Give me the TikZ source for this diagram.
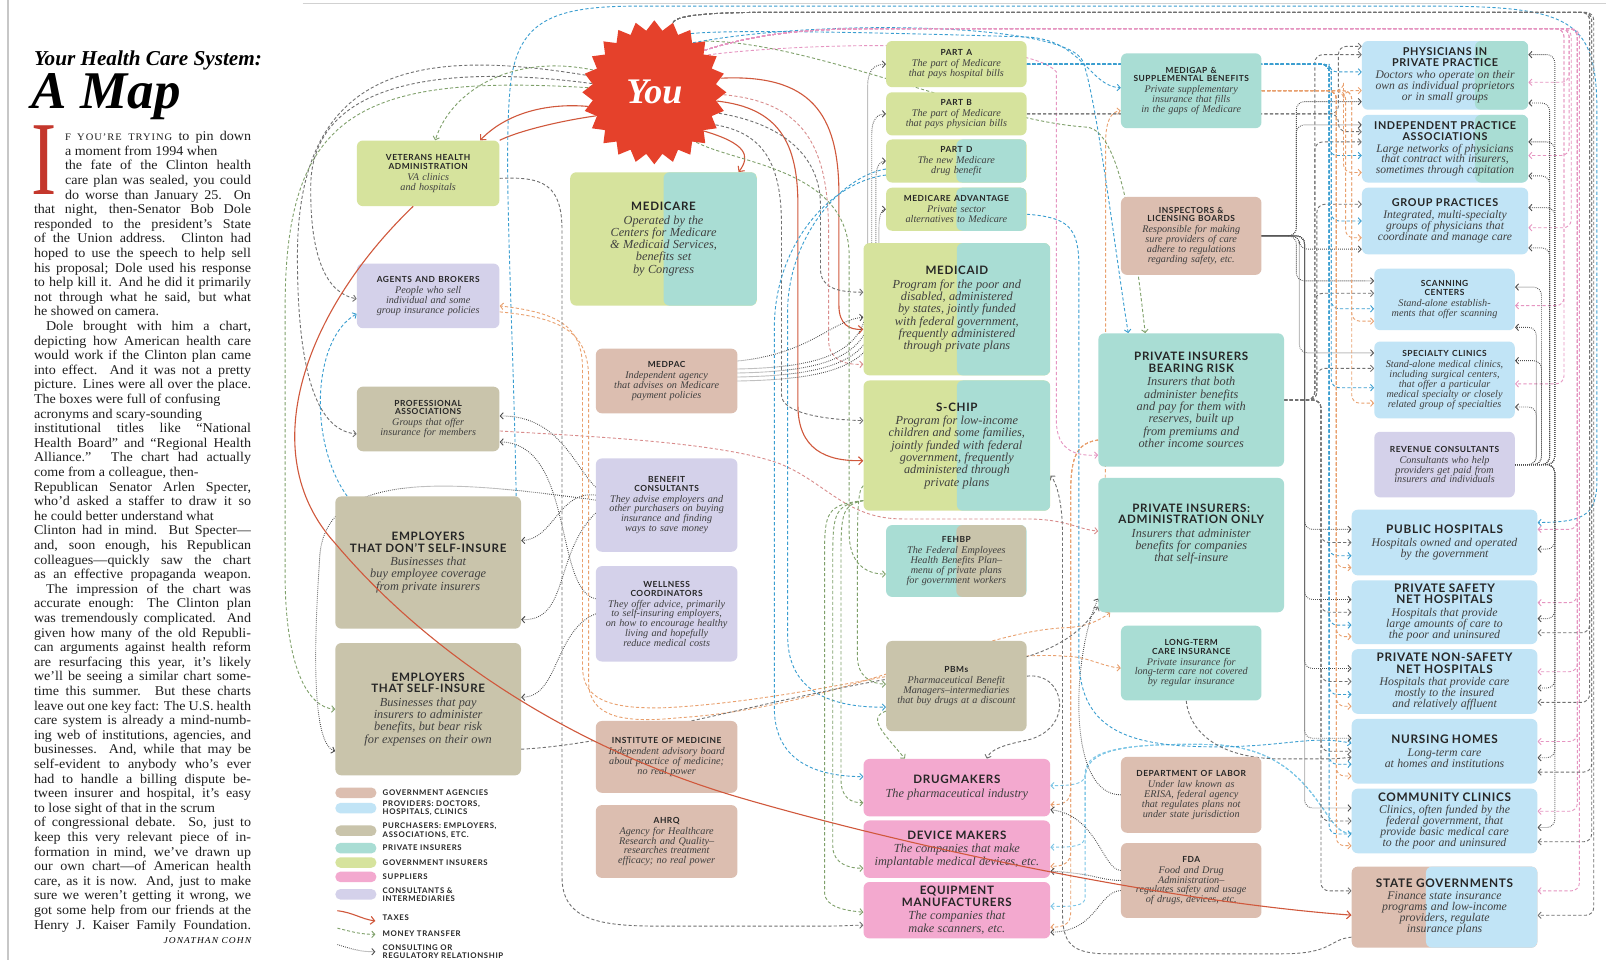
\documentclass[tikz,border=0pt]{standalone}
\usepackage{fontspec}
\usepackage{graphicx}
\setmainfont{Liberation Serif}
\newfontfamily\bodyfont{Liberation Serif}[FakeStretch=1.05]
\newfontfamily\titlefont{Lato}[LetterSpace=6]
\newfontfamily\legfont{Lato}[LetterSpace=8]
\newfontfamily\descfont{Liberation Serif}
\usetikzlibrary{shapes.geometric,arrows.meta,calc}
\pgfdeclarelayer{back}\pgfdeclarelayer{bg}\pgfdeclarelayer{fore}
\pgfsetlayers{back,bg,main,fore}
\definecolor{cGovIns}{HTML}{D6E39D}
\definecolor{cPrivIns}{HTML}{A9DDD4}
\definecolor{cAgency}{HTML}{DCBEB0}
\definecolor{cProv}{HTML}{C1E4F6}
\definecolor{cPurch}{HTML}{C9C4AB}
\definecolor{cSupp}{HTML}{F3A9CF}
\definecolor{cCons}{HTML}{D4D1EA}
\definecolor{youc}{HTML}{E5412B}
\definecolor{taxc}{HTML}{D0583C}
\definecolor{cgray}{HTML}{707070}
\definecolor{cblue}{HTML}{3A9ED0}
\definecolor{clblue}{HTML}{7CC6E6}
\definecolor{corange}{HTML}{E9A06E}
\definecolor{cpink}{HTML}{E695C1}
\definecolor{crose}{HTML}{D98C8C}
\definecolor{cgreen}{HTML}{7FA06A}
\definecolor{dotc}{HTML}{4D4D4D}
\definecolor{ttc}{HTML}{262626}
\definecolor{ddc}{HTML}{404040}
\definecolor{capred}{HTML}{C4372C}
\newcommand\ttS{\titlefont\bfseries\fontsize{8.4}{8.6}\selectfont\color{ttc}}
\newcommand\ddS{\descfont\itshape\fontsize{10.2}{9.8}\selectfont\color{ddc}}
\newcommand\ttM{\titlefont\bfseries\fontsize{10.8}{10.8}\selectfont\color{ttc}}
\newcommand\ddM{\descfont\itshape\fontsize{11.6}{10.8}\selectfont\color{ddc}}
\newcommand\ttH{\titlefont\bfseries\fontsize{11.8}{11.5}\selectfont\color{ttc}}
\newcommand\ddH{\descfont\itshape\fontsize{11.8}{11}\selectfont\color{ddc}}
\newcommand\ttL{\titlefont\bfseries\fontsize{11.6}{11.4}\selectfont\color{ttc}}
\newcommand\ddL{\descfont\itshape\fontsize{12.3}{12.3}\selectfont\color{ddc}}
\newcommand\Lj[1]{\hbox to 217pt{#1}}
\newcommand\Li[1]{\hbox to 217pt{\kern31pt #1}}
\newcommand\Lp[1]{\hbox to 217pt{\kern12pt #1}}
\newcommand\Ln[1]{\hbox{#1}}
\tikzset{
 bxs/.style={rounded corners=6pt, inner sep=0pt, align=center, draw=none},
 split/.style n args={3}{fill=#1, path picture={\fill[#2] ($(path picture bounding box.south west)!#3!(path picture bounding box.south east)$) rectangle (path picture bounding box.north east);}},
 tax/.style={draw=taxc, line width=1.1pt, -{Straight Barb[length=4pt,width=8pt]}},
 taxline/.style={draw=taxc, line width=1.1pt},
 mon/.style={draw=#1, line width=0.9pt, dash pattern=on 3.2pt off 2.2pt, ->},
 con/.style={draw=dotc, line width=0.9pt, dash pattern=on 0.8pt off 1.2pt, ->},
 swatch/.style={fill=#1, rounded corners=5pt, minimum width=41pt, minimum height=10.5pt, inner sep=0pt},
 leg/.style={anchor=west, inner sep=0pt, align=left, font=\legfont\bfseries\fontsize{7.8}{8.2}\selectfont, text=ttc}
}
\newcommand\hbx[9]{%
 \pgfmathsetmacro\bxw{(#4-#2)*1.0256}\pgfmathsetmacro\bxh{(#5-#3)*1.0256}\pgfmathsetmacro\bxt{(#4-#2)*1.0256-6}%
 \node[bxs,#6,minimum width=\bxw pt,minimum height=\bxh pt,text width=\bxt pt] (#1) at ({(#2+#4)/2},{(#3+#5)/2}) {{\csname tt#7\endcsname #8\par}\vspace{1.2pt}{\csname dd#7\endcsname #9\par}};}
\newcommand\busW[5]{\coordinate (tt) at ($(#4.north west)!#5!(#4.south west)$);\coordinate (bb) at (#3,0);\draw[#1,rounded corners=8pt] #2 -| (bb |- tt) -- (tt);}
\newcommand\busE[5]{\coordinate (tt) at ($(#4.north east)!#5!(#4.south east)$);\coordinate (bb) at (#3,0);\draw[#1,rounded corners=8pt] #2 -| (bb |- tt) -- (tt);}
\begin{document}
\begin{tikzpicture}[x=1.0256pt,y=-1.0256pt,>={Straight Barb[length=3pt,width=6.5pt]}]
\begin{pgfonlayer}{back}\fill[white] (0,0) rectangle (1566.91,936.04);\end{pgfonlayer}
\useasboundingbox (0,0) rectangle (1566.91,936.04);
\draw[black!22, line width=2pt] (8,0) -- (8,936);
\draw[black!18, line width=1pt] (295,3) -- (1566,3);

% ---------- text column ----------
\node[anchor=base west, inner sep=0pt] (title1) at (33,64) {\fontsize{21.2}{21.2}\selectfont\bfseries\itshape Your Health Care System:};
\node[anchor=base west, inner sep=0pt] (title2) at (31,106) {\fontsize{53}{53}\selectfont\bfseries\itshape A Map};
\node[anchor=base west, inner sep=0pt, text=capred] (dropcap) at (31,190) {\scalebox{0.72}[1]{\fontsize{105}{105}\selectfont I}};
\node[anchor=north west, inner sep=0pt, text=black!88] (body) at (33,128) {\bodyfont\fontsize{13.4}{14.6}\selectfont\vbox{\baselineskip=14.6pt\lineskiplimit=-20pt\lineskip=0pt
\Li{{\fontsize{10}{9}\selectfont\addfontfeature{LetterSpace=10}F YOU’RE TRYING} to pin down}
\Li{a moment from 1994 when\hfil}
\Li{the fate of the Clinton health}
\Li{care plan was sealed, you could}
\Li{do worse than January 25. On}
\Lj{that night, then-Senator Bob Dole}
\Lj{responded to the president’s State}
\Lj{of the Union address. Clinton had}
\Lj{hoped to use the speech to help sell}
\Lj{his proposal; Dole used his response}
\Lj{to help kill it. And he did it primarily}
\Lj{not through what he said, but what}
\Ln{he showed on camera.}
\Lp{Dole brought with him a chart,}
\Lj{depicting how American health care}
\Lj{would work if the Clinton plan came}
\Lj{into effect. And it was not a pretty}
\Lj{picture. Lines were all over the place.}
\Lj{The boxes were full of confusing\hfil}
\Lj{acronyms and scary-sounding\hfil}
\Lj{institutional titles like “National}
\Lj{Health Board” and “Regional Health}
\Lj{Alliance.” The chart had actually}
\Lj{come from a colleague, then-\hfil}
\Lj{Republican Senator Arlen Specter,}
\Lj{who’d asked a staffer to draw it so}
\Lj{he could better understand what\hfil}
\Lj{Clinton had in mind. But Specter—}
\Lj{and, soon enough, his Republican}
\Lj{colleagues—quickly saw the chart}
\Lj{as an effective propaganda weapon.}
\Lp{The impression of the chart was}
\Lj{accurate enough: The Clinton plan}
\Lj{was tremendously complicated. And}
\Lj{given how many of the old Republi-}
\Lj{can arguments against health reform}
\Lj{are resurfacing this year, it’s likely}
\Lj{we’ll be seeing a similar chart some-}
\Lj{time this summer. But these charts}
\Lj{leave out one key fact: The U.S. health}
\Lj{care system is already a mind-numb-}
\Lj{ing web of institutions, agencies, and}
\Lj{businesses. And, while that may be}
\Lj{self-evident to anybody who’s ever}
\Lj{had to handle a billing dispute be-}
\Lj{tween insurer and hospital, it’s easy}
\Lj{to lose sight of that in the scrum\hfil}
\Lj{of congressional debate. So, just to}
\Lj{keep this very relevant piece of in-}
\Lj{formation in mind, we’ve drawn up}
\Lj{our own chart—of American health}
\Lj{care, as it is now. And, just to make}
\Lj{sure we weren’t getting it wrong, we}
\Lj{got some help from our friends at the}
\Lj{Henry J. Kaiser Family Foundation.}}};
\node[anchor=base east, inner sep=0pt] (author) at (245,920) {\bodyfont\fontsize{9}{9}\selectfont\itshape\addfontfeature{LetterSpace=12}JONATHAN COHN};

% ---------- boxes ----------
\hbx{vha}{348}{137}{487}{201}{fill=cGovIns}{S}{VETERANS HEALTH\\ADMINISTRATION}{VA clinics\\and hospitals}
\hbx{agents}{348}{257}{487}{320}{fill=cCons}{S}{AGENTS AND BROKERS}{People who sell\\individual and some\\group insurance policies}
\hbx{prof}{348}{377}{487}{440}{fill=cPurch}{S}{PROFESSIONAL\\ASSOCIATIONS}{Groups that offer\\insurance for members}
\hbx{empno}{327}{484}{508}{613}{fill=cPurch}{L}{EMPLOYERS\\THAT DON’T SELF-INSURE}{Businesses that\\buy employee coverage\\from private insurers}
\hbx{empself}{327}{627}{508}{756}{fill=cPurch}{L}{EMPLOYERS\\THAT SELF-INSURE}{Businesses that pay\\insurers to administer\\benefits, but bear risk\\for expenses on their own}
\hbx{medicare}{556}{168}{738}{298}{split={cGovIns}{cPrivIns}{0.5}}{L}{MEDICARE}{Operated by the\\Centers for Medicare\\\& Medicaid Services,\\benefits set\\by Congress}
\hbx{medpac}{581}{340}{719}{403}{fill=cAgency}{S}{MEDPAC}{Independent agency\\that advises on Medicare\\payment policies}
\hbx{benefit}{581}{447}{719}{538}{fill=cCons}{S}{BENEFIT\\CONSULTANTS}{They advise employers and\\other purchasers on buying\\insurance and finding\\ways to save money}
\hbx{wellness}{581}{552}{719}{645}{fill=cCons}{S}{WELLNESS\\COORDINATORS}{They offer advice, primarily\\to self-insuring employers,\\on how to encourage healthy\\living and hopefully\\reduce medical costs}
\hbx{iom}{581}{703}{719}{773}{fill=cAgency}{S}{INSTITUTE OF MEDICINE}{Independent advisory board\\about practice of medicine;\\no real power}
\hbx{ahrq}{581}{785}{719}{856}{fill=cAgency}{S}{AHRQ}{Agency for Healthcare\\Research and Quality–\\researches treatment\\efficacy; no real power}
\hbx{parta}{864}{40}{1001}{85}{fill=cGovIns}{S}{PART A}{The part of Medicare\\that pays hospital bills}
\hbx{partb}{864}{90}{1001}{132}{fill=cGovIns}{S}{PART B}{The part of Medicare\\that pays physician bills}
\hbx{partd}{864}{136}{1001}{178}{split={cGovIns}{cPrivIns}{0.5}}{S}{PART D}{The new Medicare\\drug benefit}
\hbx{adv}{864}{183}{1001}{225}{split={cGovIns}{cPrivIns}{0.5}}{S}{MEDICARE ADVANTAGE}{Private sector\\alternatives to Medicare}
\hbx{medicaid}{842}{237}{1024}{366}{split={cGovIns}{cPrivIns}{0.5}}{L}{MEDICAID}{Program for the poor and\\disabled, administered\\by states, jointly funded\\with federal government,\\frequently administered\\through private plans}
\hbx{schip}{842}{371}{1024}{498}{split={cGovIns}{cPrivIns}{0.5}}{L}{S-CHIP}{Program for low-income\\children and some families,\\jointly funded with federal\\government, frequently\\administered through\\private plans}
\hbx{fehbp}{864}{512}{1001}{582}{split={cPrivIns}{cPurch}{0.5}}{S}{FEHBP}{The Federal Employees\\Health Benefits Plan–\\menu of private plans\\for government workers}
\hbx{pbm}{864}{625}{1001}{713}{fill=cPurch}{S}{PBMs}{Pharmaceutical Benefit\\Managers–intermediaries\\that buy drugs at a discount}
\hbx{drug}{842}{740}{1024}{796}{fill=cSupp}{L}{DRUGMAKERS}{The pharmaceutical industry}
\hbx{device}{842}{800}{1024}{856}{fill=cSupp}{L}{DEVICE MAKERS}{The companies that make\\implantable medical devices, etc.}
\hbx{equip}{842}{860}{1024}{915}{fill=cSupp}{L}{EQUIPMENT\\MANUFACTURERS}{The companies that\\make scanners, etc.}
\hbx{medigap}{1093}{52}{1230}{125}{fill=cPrivIns}{S}{MEDIGAP \&\\SUPPLEMENTAL BENEFITS}{Private supplementary\\insurance that fills\\in the gaps of Medicare}
\hbx{inspect}{1093}{192}{1230}{268}{fill=cAgency}{S}{INSPECTORS \&\\LICENSING BOARDS}{Responsible for making\\sure providers of care\\adhere to regulations\\regarding safety, etc.}
\hbx{pibr}{1071}{325}{1252}{455}{fill=cPrivIns}{L}{PRIVATE INSURERS\\BEARING RISK}{Insurers that both\\administer benefits\\and pay for them with\\reserves, built up\\from premiums and\\other income sources}
\hbx{admin}{1071}{466}{1252}{597}{fill=cPrivIns}{L}{PRIVATE INSURERS:\\ADMINISTRATION ONLY}{Insurers that administer\\benefits for companies\\that self-insure\\[22pt]}
\hbx{ltc}{1093}{610}{1230}{683}{fill=cPrivIns}{S}{LONG-TERM\\CARE INSURANCE}{Private insurance for\\long-term care not covered\\by regular insurance}
\hbx{dol}{1093}{738}{1230}{812}{fill=cAgency}{S}{DEPARTMENT OF LABOR}{Under law known as\\ERISA, federal agency\\that regulates plans not\\under state jurisdiction}
\hbx{fda}{1093}{822}{1230}{895}{fill=cAgency}{S}{FDA}{Food and Drug\\Administration–\\regulates safety and usage\\of drugs, devices, etc.}
\hbx{phys}{1328}{40}{1490}{107}{split={cProv}{cPrivIns}{0.68}}{M}{PHYSICIANS IN\\PRIVATE PRACTICE}{Doctors who operate on their\\own as individual proprietors\\or in small groups}
\hbx{ipa}{1328}{112}{1490}{178}{split={cProv}{cPrivIns}{0.68}}{M}{INDEPENDENT PRACTICE\\ASSOCIATIONS}{Large networks of physicians\\that contract with insurers,\\sometimes through capitation}
\hbx{group}{1328}{183}{1490}{248}{fill=cProv}{M}{GROUP PRACTICES}{Integrated, multi-specialty\\groups of physicians that\\coordinate and manage care}
\hbx{scan}{1340}{262}{1477}{322}{fill=cProv}{S}{SCANNING\\CENTERS}{Stand-alone establish-\\ments that offer scanning}
\hbx{spec}{1340}{333}{1477}{408}{fill=cProv}{S}{SPECIALTY CLINICS}{Stand-alone medical clinics,\\including surgical centers,\\that offer a particular\\medical specialty or closely\\related group of specialties}
\hbx{revenue}{1340}{421}{1477}{485}{fill=cCons}{S}{REVENUE CONSULTANTS}{Consultants who help\\providers get paid from\\insurers and individuals}
\hbx{pubhosp}{1318}{497}{1499}{561}{fill=cProv}{H}{PUBLIC HOSPITALS}{Hospitals owned and operated\\by the government}
\hbx{safety}{1318}{566}{1499}{628}{fill=cProv}{H}{PRIVATE SAFETY\\NET HOSPITALS}{Hospitals that provide\\large amounts of care to\\the poor and uninsured}
\hbx{nonsafety}{1318}{633}{1499}{696}{fill=cProv}{H}{PRIVATE NON-SAFETY\\NET HOSPITALS}{Hospitals that provide care\\mostly to the insured\\and relatively affluent}
\hbx{nursing}{1318}{701}{1499}{764}{fill=cProv}{H}{NURSING HOMES}{Long-term care\\at homes and institutions}
\hbx{community}{1318}{769}{1499}{832}{fill=cProv}{H}{COMMUNITY CLINICS}{Clinics, often funded by the\\federal government, that\\provide basic medical care\\to the poor and uninsured}
\hbx{state}{1318}{845}{1499}{924}{split={cAgency}{cProv}{0.4}}{H}{STATE GOVERNMENTS}{Finance state insurance\\programs and low-income\\providers, regulate\\insurance plans}

\node[star, star points=24, star point ratio=1.16, fill=youc, minimum size=144pt, inner sep=0pt] (you) at (638,90) {\fontsize{36}{36}\selectfont\bfseries\itshape\color{white}You};

% ---------- legend ----------
\node[swatch=cAgency] (lg1) at (347,773) {};
\node[swatch=cProv] (lg2) at (347,788) {};
\node[swatch=cPurch] (lg3) at (347,810) {};
\node[swatch=cPrivIns] (lg4) at (347,827) {};
\node[swatch=cGovIns] (lg5) at (347,841) {};
\node[swatch=cSupp] (lg6) at (347,855) {};
\node[swatch=cCons] (lg7) at (347,872) {};
\node[leg] (lt1) at (373,773) {GOVERNMENT AGENCIES};
\node[leg] (lt2) at (373,788) {PROVIDERS: DOCTORS,\\HOSPITALS, CLINICS};
\node[leg] (lt3) at (373,810) {PURCHASERS: EMPLOYERS,\\ASSOCIATIONS, ETC.};
\node[leg] (lt4) at (373,827) {PRIVATE INSURERS};
\node[leg] (lt5) at (373,841) {GOVERNMENT INSURERS};
\node[leg] (lt6) at (373,855) {SUPPLIERS};
\node[leg] (lt7) at (373,872) {CONSULTANTS \&\\INTERMEDIARIES};
\node[leg] (lt8) at (373,895) {TAXES};
\node[leg] (lt9) at (373,910) {MONEY TRANSFER};
\node[leg] (lt10) at (373,928) {CONSULTING OR\\REGULATORY RELATIONSHIP};
\draw[taxc, line width=1.1pt, -{Straight Barb[length=4pt,width=8pt]}] (329,888) .. controls (345,890) and (352,896) .. (366,898);
\draw[cgreen, line width=0.9pt, dash pattern=on 3pt off 2pt, ->] (329,905) .. controls (345,909) and (352,911) .. (366,911);
\draw[dotc, line width=0.9pt, dash pattern=on 0.8pt off 1.2pt, ->] (329,921) .. controls (345,926) and (352,928) .. (366,928);

% ---------- connectors ----------
\begin{pgfonlayer}{bg}
% taxes
\draw[tax] (you.192) .. controls (530,100) and (492,112) .. ([xshift=52pt]vha.north);
\draw[tax] (you.-38) .. controls (728,140) and (732,152) .. ([xshift=75pt]medicare.north);
\draw[tax] (you.12) .. controls (790,72) and (818,110) .. (818,190) -- (818,298) .. controls (818,316) and (828,322) .. ([yshift=-20pt]medicaid.west);
\draw[tax] (you.-8) .. controls (760,105) and (778,140) .. (778,200) -- (778,395) .. controls (778,438) and (805,450) .. ([yshift=-15pt]schip.west);
\draw[taxline] (you.202) .. controls (545,118) and (505,128) .. (vha.north east);
% left side
\draw[mon=cgray] (you.172) .. controls (430,62) and (305,80) .. (303,180) .. controls (302,250) and (318,286) .. ([yshift=-3pt]agents.west);
\draw[mon=cgray] (you.166) .. controls (400,45) and (290,70) .. (290,250) .. controls (290,380) and (315,420) .. ([yshift=-15pt]prof.west);
\draw[mon=cgreen] (you.160) .. controls (500,52) and (440,88) .. ([xshift=7pt]vha.north);
\draw[mon=cblue] ([xshift=12pt]empno.north west) .. controls (300,430) and (305,330) .. ([yshift=-18pt]agents.west);
\draw[mon=cgreen] (you.176) .. controls (350,72) and (278,110) .. (278,300) -- (278,560) .. controls (278,650) and (300,690) .. (empself.west);
\draw[con] ([yshift=5pt]benefit.west) .. controls (450,470) and (320,455) .. (312,540) .. controls (305,640) and (305,725) .. ([yshift=-42pt]empself.west);
\draw[con] ([yshift=10pt]benefit.west) .. controls (545,478) and (540,526) .. ([yshift=22pt]empno.east);
\draw[con] ([yshift=-8pt]benefit.west) .. controls (540,540) and (555,606) .. ([yshift=-57pt]empno.east);
\draw[con] (wellness.west) .. controls (540,615) and (545,680) .. ([yshift=12pt]empself.east);
\draw[con] ([yshift=18pt]benefit.west) .. controls (560,455) and (545,405) .. ([yshift=3pt]prof.east);
\draw[con] ([yshift=15pt]wellness.west) .. controls (540,575) and (560,432) .. ([yshift=-23pt]prof.east);
\draw[mon=crose] ([yshift=-12pt]prof.east) .. controls (560,425) and (700,430) .. (760,452) .. controls (805,470) and (825,506) .. (880,506) -- (1000,506) .. controls (1040,506) and (1050,516) .. ([yshift=14pt]admin.west);
\draw[mon=corange,<->] ([yshift=-5pt]ltc.west) .. controls (1075,650) and (1060,640) .. (1040,640) .. controls (950,632) and (800,682) .. (650,690) .. controls (590,692) and (568,680) .. (568,650) -- (568,360) .. controls (568,318) and (545,305) .. ([yshift=-10pt]agents.east);
\draw[mon=corange] ([yshift=-16pt]agents.east) .. controls (550,310) and (574,325) .. (574,370) -- (574,665) .. controls (574,700) and (610,705) .. (660,700) .. controls (820,690) and (950,615) .. (1040,612) .. controls (1060,611) and (1072,605) .. ([xshift=12pt]admin.south west);
\draw[mon=cgray] ([yshift=-40pt]empself.east) .. controls (620,725) and (800,665) .. (950,650) .. controls (1030,642) and (1058,612) .. ([yshift=6pt]admin.south west);
\draw[mon=cgray] ([yshift=-5pt]vha.east) .. controls (530,172) and (548,180) .. (548,225) -- (548,855) .. controls (548,895) and (580,903) .. (640,903) -- (800,903) .. controls (826,903) and (832,902) .. ([yshift=-15pt]equip.west);
\draw[mon=cblue] ([xshift=-5pt]empno.north east) .. controls (500,300) and (490,150) .. (498,80) .. controls (506,20) and (540,6) .. (620,6) -- (1400,6) .. controls (1530,6) and (1555,20) .. (1557,100) -- (1557,470) .. controls (1557,505) and (1540,509) .. ([yshift=20pt]pubhosp.east);
% centre
\draw[mon=cgray] (you.-18) .. controls (760,120) and (800,150) .. (800,200) -- (800,262) .. controls (800,280) and (815,285) .. ([yshift=17pt]medicaid.west);
\draw[mon=cgray] (you.-28) .. controls (745,130) and (762,160) .. (762,220) -- (762,385) .. controls (762,402) and (800,409) .. ([yshift=25pt]schip.west);
\draw[mon=crose] (you.-2) .. controls (790,100) and (808,150) .. (808,230) -- (808,332) .. controls (808,350) and (822,356) .. ([yshift=-55pt]medicaid.west);
\draw[mon=cblue] ([yshift=-8pt]partd.west) .. controls (820,172) and (770,230) .. (768,300) -- (768,620) .. controls (768,680) and (820,690) .. ([yshift=-21pt]pbm.west);
\draw[mon=cblue] ([yshift=-14pt]partd.west) .. controls (808,178) and (755,240) .. (755,320) -- (755,690) .. controls (755,745) and (800,757) .. ([yshift=11pt]drug.west);
\draw[mon=cgreen] (you.-50) .. controls (720,160) and (828,165) .. (828,250) -- (828,520) .. controls (828,550) and (845,560) .. ([yshift=-13pt]fehbp.west);
\draw[mon=cgreen] ([yshift=-40pt]schip.west) .. controls (836,478) and (836,500) .. (836,560) -- (836,640) .. controls (836,660) and (850,667) .. ([yshift=2pt]pbm.west);
\draw[mon=cgreen] ([yshift=-55pt]schip.west) .. controls (822,492) and (820,500) .. (820,540) -- (820,760) .. controls (820,778) and (830,783) .. ([yshift=-15pt]drug.west);
\draw[mon=cgreen] ([yshift=-55pt]schip.west) .. controls (815,492) and (812,500) .. (812,540) -- (812,825) .. controls (812,842) and (828,847) .. ([yshift=-19pt]device.west);
\draw[mon=cgreen] ([yshift=-55pt]schip.west) .. controls (806,492) and (804,500) .. (804,540) -- (804,870) .. controls (804,885) and (826,888) .. ([yshift=-2pt]equip.west);
\draw[mon=cgray] ([yshift=10pt]pbm.east) .. controls (1040,655) and (1048,712) .. (1000,722) .. controls (975,727) and (965,732) .. ([xshift=30pt]drug.north);
\draw[mon=cgreen] ([yshift=-25pt]pbm.west) .. controls (845,700) and (862,715) .. ([xshift=-52pt]drug.north);
\draw[mon=clblue] ([yshift=-12pt]community.west) .. controls (1290,818) and (1285,728) .. (1180,726) .. controls (1080,724) and (1058,735) .. (1058,755) .. controls (1058,765) and (1045,766) .. ([yshift=2pt]drug.east);
\draw[mon=clblue] ([yshift=-12pt]community.west) .. controls (1290,818) and (1285,728) .. (1180,726) .. controls (1080,724) and (1058,735) .. (1058,760) -- (1058,815) .. controls (1058,826) and (1045,826) .. ([yshift=2pt]device.east);
\draw[mon=clblue] ([yshift=-12pt]community.west) .. controls (1290,818) and (1285,728) .. (1180,726) .. controls (1080,724) and (1058,735) .. (1058,760) -- (1058,875) .. controls (1058,884) and (1045,884) .. ([yshift=4pt]equip.east);
\draw[mon=corange] ([yshift=-40pt]pibr.west) .. controls (1050,432) and (1044,445) .. (1044,480) -- (1044,770) .. controls (1044,782) and (1036,785) .. ([yshift=-17pt]drug.east);
\draw[mon=corange] ([yshift=-40pt]pibr.west) .. controls (1050,432) and (1044,445) .. (1044,480) -- (1044,830) .. controls (1044,842) and (1036,845) .. ([yshift=-17pt]device.east);
\draw[mon=corange] ([yshift=-40pt]pibr.west) .. controls (1050,432) and (1044,445) .. (1044,480) -- (1044,890) .. controls (1044,902) and (1036,904) .. ([yshift=-17pt]equip.east);
\draw[con] ([yshift=10pt]fda.west) .. controls (1075,848) and (1070,795) .. ([yshift=-22pt]drug.east);
\draw[con] (fda.west) .. controls (1070,858) and (1070,852) .. ([yshift=-22pt]device.east);
\draw[con] ([yshift=-10pt]fda.west) .. controls (1070,870) and (1070,908) .. ([yshift=-22pt]equip.east);
\draw[con] (dol.west) .. controls (1040,775) and (1045,640) .. ([yshift=14pt]admin.south west);
\draw[mon=cblue] ([yshift=-5pt]adv.east) .. controls (1040,212) and (1052,220) .. (1052,260) -- (1052,640) .. controls (1052,705) and (1090,726) .. (1170,728) .. controls (1250,730) and (1275,716) .. ([yshift=8pt]nursing.west);
\draw[mon=cgray] ([xshift=-5pt]ltc.south) .. controls (1160,715) and (1190,740) .. (1250,740) -- (1290,740) .. controls (1305,740) and (1310,739) .. ([yshift=-6pt]nursing.west);
\draw[con] ([yshift=12pt]medpac.east) .. controls (800,358) and (846,345) .. (846,290) -- (846,85) .. controls (846,68) and (852,63) .. (parta.west);
\draw[con] ([yshift=8pt]medpac.east) .. controls (800,362) and (850,350) .. (850,295) -- (850,130) .. controls (850,116) and (856,111) .. (partb.west);
\draw[con] ([yshift=4pt]medpac.east) .. controls (800,366) and (854,355) .. (854,300) -- (854,175) .. controls (854,162) and (858,157) .. (partd.west);
\draw[con] (medpac.east) .. controls (800,370) and (857,360) .. (857,305) -- (857,222) .. controls (857,209) and (860,204) .. (adv.west);
\draw[con] ([yshift=20pt]medpac.east) .. controls (790,345) and (812,312) .. ([yshift=-8pt]medicaid.west);
\draw[mon=cblue] (you.58) .. controls (720,28) and (900,33) .. (1000,36) .. controls (1055,38) and (1062,84) .. ([yshift=3pt]medigap.west);
\draw[mon=corange] ([xshift=7pt]admin.north west) .. controls (1078,450) and (1078,430) .. (1078,400) -- (1078,140) .. controls (1078,116) and (1084,109) .. ([yshift=-20pt]medigap.west);
\draw[mon=cblue] (you.52) .. controls (800,18) and (1040,22) .. (1056,60) .. controls (1070,100) and (1088,250) .. ([xshift=-63pt]pibr.north);
\draw[mon=cgreen] (you.45) .. controls (790,40) and (960,118) .. (1060,124) .. controls (1095,128) and (1108,250) .. ([xshift=-46pt]pibr.north);
\draw[mon=cpink] (you.35) .. controls (780,42) and (1000,36) .. (1030,70) -- (1030,410) .. controls (1030,440) and (1050,445) .. ([yshift=-55pt]pibr.west);
\draw[mon=cgray] ([yshift=-30pt]state.west) .. controls (1295,916) and (1300,930) .. (1250,930) -- (1080,930) .. controls (1045,930) and (1036,920) .. (1036,890) -- (1036,520) .. controls (1036,490) and (1030,470) .. ([yshift=-30pt]schip.east);
% provider column, left side
\foreach \n/\f/\b in {phys/0.88/1264, ipa/0.15/1264, group/0.92/1267, scan/0.2/1264, spec/0.15/1267, pubhosp/0.3/1272, safety/0.3/1272, nonsafety/0.3/1272, nursing/0.3/1272, community/0.3/1272}
 {\busW{con}{(inspect.east)}{\b}{\n}{\f}}
\foreach \n/\f/\b in {phys/0.2/1282, ipa/0.4/1282, group/0.25/1284, scan/0.4/1282, spec/0.35/1284, pubhosp/0.5/1288, safety/0.5/1288, nonsafety/0.5/1288, nursing/0.5/1288, community/0.5/1288, state/0.3/1288}
 {\busW{mon=cgray}{(pibr.east)}{\b}{\n}{\f}}
\foreach \n/\f/\b in {phys/0.08/1305, ipa/0.25/1305}
 {\busW{mon=cgray}{(partb.east)}{\b}{\n}{\f}}
\foreach \n/\f/\b in {phys/0.45/1296, ipa/0.6/1296, group/0.5/1298, scan/0.65/1298, spec/0.6/1298, pubhosp/0.7/1296, safety/0.7/1296, nonsafety/0.7/1296, nursing/0.7/1296, community/0.7/1296}
 {\busW{mon=cblue}{(parta.east)}{\b}{\n}{\f}}
\foreach \n/\f/\b in {phys/0.72/1310, ipa/0.85/1310, group/0.75/1312, scan/0.85/1318, spec/0.8/1318, pubhosp/0.88/1303, safety/0.88/1303, nonsafety/0.88/1303, nursing/0.88/1303, community/0.88/1303}
 {\busW{mon=corange}{(medigap.east)}{\b}{\n}{\f}}
% provider column, right side
\foreach \n/\f/\b in {phys/0.6/1530, ipa/0.6/1530, group/0.6/1532, scan/0.6/1525, spec/0.55/1525, pubhosp/0.3/1538, safety/0.35/1538, nonsafety/0.35/1538, nursing/0.35/1538, community/0.35/1538, state/0.3/1540}
 {\busE{mon=cpink}{(you.40) .. controls (740,32) and (790,28) .. (860,28)}{\b}{\n}{\f}}
\foreach \n/\f/\b in {phys/0.2/1516, phys/0.9/1511, ipa/0.4/1516, ipa/0.9/1511, group/0.3/1516, group/0.9/1511, scan/0.3/1503, scan/0.95/1498, spec/0.25/1503, spec/0.85/1498, pubhosp/0.6/1516, safety/0.6/1516, nonsafety/0.6/1516, nursing/0.6/1516, community/0.6/1516}
 {\busE{con}{(revenue.east)}{\b}{\n}{\f}}
\foreach \n/\f/\b in {safety/0.82/1550, nonsafety/0.82/1550, nursing/0.82/1552, community/0.82/1552, state/0.6/1554}
 {\busE{mon=cgray}{(you.75) .. controls (660,14) and (700,12) .. (760,12)}{\b}{\n}{\f}}
\end{pgfonlayer}

\begin{pgfonlayer}{fore}
\draw[tax] ([xshift=-15pt]vha.south) .. controls (300,300) and (245,440) .. (327,530) .. controls (420,640) and (560,730) .. (719,777) .. controls (900,830) and (1150,880) .. ([yshift=-8pt]state.west);
\end{pgfonlayer}
\end{tikzpicture}
\end{document}
